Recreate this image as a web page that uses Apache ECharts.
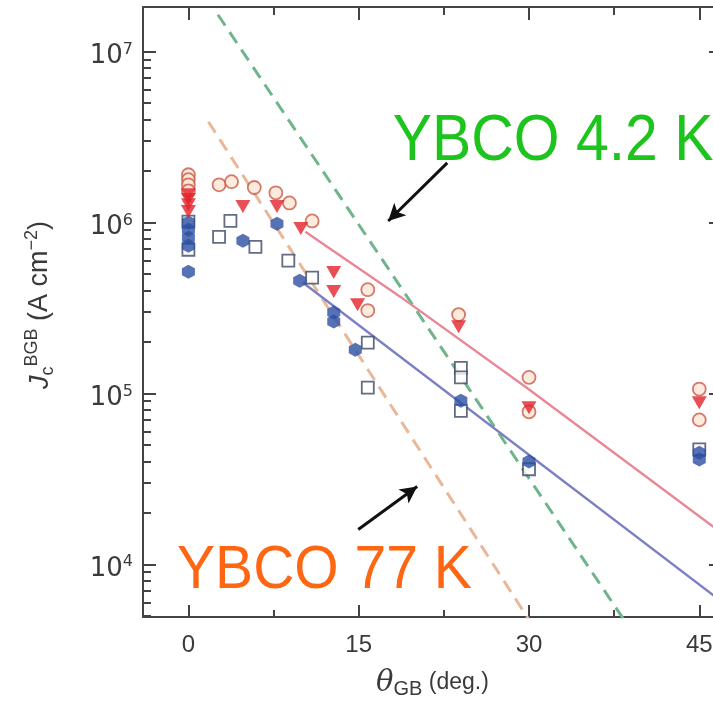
<!DOCTYPE html>
<html>
<head>
<meta charset="utf-8">
<script src="https://cdn.jsdelivr.net/npm/echarts@6/dist/echarts.min.js"></script>
<style>
html,body{margin:0;padding:0;background:#fff;}
#c{width:713px;height:702px;}
</style>
</head>
<body>
<div id="c"></div>
<script>
// ---- data ----
const xMajorTicks = [0, 15, 30, 45];
const xMinorTicks = [7.5, 22.5, 37.5];
const yMajorTicks = [1e4, 1e5, 1e6, 1e7];
const yMinorTicks = [5e3, 6e3, 7e3, 8e3, 9e3,
  2e4, 3e4, 4e4, 5e4, 6e4, 7e4, 8e4, 9e4,
  2e5, 3e5, 4e5, 5e5, 6e5, 7e5, 8e5, 9e5,
  2e6, 3e6, 4e6, 5e6, 6e6, 7e6, 8e6, 9e6];

// open red circles
const openCircles = [[0,1.90e6],[0,1.78e6],[0,1.66e6],[0,1.53e6],[2.7,1.66e6],[3.8,1.73e6],
  [5.8,1.60e6],[7.7,1.49e6],[8.9,1.30e6],[10.9,1.02e6],[15.8,4.04e5],[15.8,3.05e5],
  [23.8,2.89e5],[30,1.24e5],[30,7.8e4],[45,1.06e5],[45,7.0e4]];
// filled red down-triangles
const redTriangles = [[0,1.45e6],[0,1.36e6],[0,1.27e6],[0,1.16e6],[4.8,1.24e6],[7.8,1.24e6],
  [9.9,9.2e5],[12.8,5.1e5],[12.8,3.94e5],[14.9,3.30e5],[23.8,2.45e5],[30,8.24e4],[45,8.8e4]];
// open blue squares
const openSquares = [[0,1.01e6],[0,6.92e5],[2.7,8.24e5],[3.7,1.02e6],[5.9,7.2e5],[8.8,5.97e5],
  [10.9,4.75e5],[15.8,1.98e5],[15.8,1.08e5],[24,1.41e5],[24,1.24e5],[24,7.9e4],[30,3.6e4],[45,4.7e4]];
// filled blue hexagons
const blueFilled = [[0,1.0e6],[0,9.06e5],[0,8.14e5],[0,7.31e5],[0,5.15e5],[4.8,7.82e5],[7.8,9.83e5],
  [9.8,4.56e5],[12.8,2.97e5],[12.8,2.63e5],[14.7,1.80e5],[24,9.06e4],[30,3.99e4],[45,4.5e4],[45,4.1e4]];

// lines
const line42Dashed = [[2.6,1.64e7],[39,4.1e3]];
const line77Dashed = [[1.76,3.88e6],[30.5,4.2e3]];
const fit42 = [[10.3,8.83e5],[18.65,3.68e5],[29.8,1.08e5],[47,1.52e4]];
const fit77 = [[10.1,4.44e5],[47,6.04e3]];

// annotation arrows [tail, head]
const arrow42 = [[22.8,2.23e6],[17.6,1.02e6]];
const arrow77 = [[14.96,1.6e4],[20.15,2.85e4]];
// annotation text anchors (left, cap centre)
const text42 = {label:'YBCO 4.2 K', at:[18.0,2.92e6]};
const text77 = {label:'YBCO 77 K', at:[-1.0,9.2e3]};

// ---- chart ----
const FONT = '"Liberation Sans", Arial, Helvetica, sans-serif';
const AX = '#444';
const TXT = '#3a3a3a';
const xMin = -4, xMax = 47, yMin = 4.92e3, yMax = 1.82e7;
const gridBox = {left:143, top:7, width:579, height:610, containLabel:false, outerBoundsMode:'none'};

const chart = echarts.init(document.getElementById('c'), null, {renderer:'canvas'});

function xAx(gi, pos, ticks, len, showLine, extra) {
  return Object.assign({
    type:'value', gridIndex:gi, position:pos, min:xMin, max:xMax,
    axisLine:{show:showLine, onZero:false, lineStyle:{color:AX, width:2}},
    axisTick:{show:true, inside:true, length:len, customValues:ticks, lineStyle:{color:AX, width:2}},
    axisLabel:{show:false}, splitLine:{show:false}
  }, extra||{});
}
function yAx(gi, pos, ticks, len, showLine, extra) {
  return Object.assign({
    type:'log', logBase:10, gridIndex:gi, position:pos, min:yMin, max:yMax,
    axisLine:{show:showLine, onZero:false, lineStyle:{color:AX, width:2}},
    axisTick:{show:true, inside:true, length:len, customValues:ticks, lineStyle:{color:AX, width:2}},
    axisLabel:{show:false}, splitLine:{show:false}, minorTick:{show:false}
  }, extra||{});
}

const option = {
  animation:false,
  backgroundColor:'#fff',
  grid:[Object.assign({}, gridBox), Object.assign({}, gridBox)],
  xAxis:[
    xAx(0,'bottom',xMajorTicks,12,true,{
      axisLabel:{show:true, customValues:xMajorTicks, margin:16, color:TXT, fontSize:24, fontFamily:FONT},
      name:'{t|θ}{sub|GB}{n| (deg.)}', nameLocation:'middle', nameGap:50,
      nameTextStyle:{rich:{
        t:{fontSize:29, fontStyle:'italic', fontFamily:'"DejaVu Serif", serif', color:TXT, lineHeight:32},
        sub:{fontSize:20, fontFamily:FONT, color:TXT, verticalAlign:'bottom', lineHeight:20},
        n:{fontSize:23, fontFamily:FONT, color:TXT, lineHeight:32}
      }}
    }),
    xAx(0,'top',xMajorTicks,13,true),
    xAx(1,'bottom',xMinorTicks,7,false),
    xAx(1,'top',xMinorTicks,8,false)
  ],
  yAxis:[
    yAx(0,'left',yMajorTicks,13,true,{
      axisLabel:{show:true, customValues:yMajorTicks, margin:10, padding:[10,0,0,0], color:TXT,
        formatter:function(v){ return '{b|10}{s|' + Math.round(Math.log10(v)) + '}'; },
        rich:{
          b:{fontSize:26, fontFamily:'"DejaVu Sans", sans-serif', color:TXT, lineHeight:30},
          s:{fontSize:16, fontFamily:'"DejaVu Sans", sans-serif', color:TXT, verticalAlign:'top', lineHeight:15}
        }},
      name:'{j|J}{sub|c}{sup|BGB}{n| (A cm}{sup|−2}{n|)}', nameLocation:'middle', nameRotate:90, nameGap:86,
      nameTextStyle:{padding:[0,0,0,14], rich:{
        j:{fontSize:27, fontStyle:'italic', fontFamily:FONT, color:TXT, lineHeight:34},
        sub:{fontSize:18, fontFamily:FONT, color:TXT, verticalAlign:'bottom', lineHeight:18},
        sup:{fontSize:18, fontFamily:FONT, color:TXT, verticalAlign:'top', lineHeight:18},
        n:{fontSize:27, fontFamily:FONT, color:TXT, lineHeight:34}
      }}
    }),
    yAx(0,'right',yMajorTicks,13,true),
    yAx(1,'left',yMinorTicks,8,false),
    yAx(1,'right',yMinorTicks,8,false)
  ],
  series:[
    {type:'line', name:'4.2K GB dashed', xAxisIndex:0, yAxisIndex:0, data:line42Dashed, showSymbol:false, symbol:'none',
      lineStyle:{color:'#6fb48c', width:3, type:[13,8]}, z:1, silent:true},
    {type:'line', name:'77K GB dashed', xAxisIndex:0, yAxisIndex:0, data:line77Dashed, showSymbol:false, symbol:'none',
      lineStyle:{color:'#e9b89a', width:3, type:[13,8]}, z:1, silent:true},
    {type:'line', name:'fit 4.2K', xAxisIndex:0, yAxisIndex:0, data:fit42, showSymbol:false, symbol:'none',
      lineStyle:{color:'#ea8797', width:2.4}, z:2, silent:true},
    {type:'line', name:'fit 77K', xAxisIndex:0, yAxisIndex:0, data:fit77, showSymbol:false, symbol:'none',
      lineStyle:{color:'#7c80c2', width:2.4}, z:2, silent:true,
      markLine:{silent:true, symbol:['none','arrow'], symbolSize:[13,17], label:{show:false},
        lineStyle:{color:'#111', width:3, type:'solid'},
        data:[[{coord:arrow42[0]},{coord:arrow42[1]}],[{coord:arrow77[0]},{coord:arrow77[1]}]]}},
    {type:'scatter', name:'open squares', xAxisIndex:0, yAxisIndex:0, data:openSquares, symbol:'rect', symbolSize:12,
      itemStyle:{color:'#ffffff', borderColor:'#3d4763', borderWidth:1.8}, z:3},
    {type:'scatter', name:'blue filled', xAxisIndex:0, yAxisIndex:0, data:blueFilled,
      symbol:'path://M0,-10 L8.66,-5 L8.66,5 L0,10 L-8.66,5 L-8.66,-5 Z', symbolSize:[13,14],
      itemStyle:{color:'#2c4fa3'}, z:4},
    {type:'scatter', name:'open circles', xAxisIndex:0, yAxisIndex:0, data:openCircles, symbol:'circle', symbolSize:13,
      itemStyle:{color:'#fde6d6', borderColor:'#c85a48', borderWidth:1.8}, z:5},
    {type:'scatter', name:'red triangles', xAxisIndex:0, yAxisIndex:0, data:redTriangles, symbol:'triangle', symbolRotate:180, symbolSize:[15,13],
      itemStyle:{color:'#e3222b'}, z:6}
  ]
};
chart.setOption(option);

function placeText(t, color, size, sx) {
  const p = chart.convertToPixel({gridIndex:0}, t.at);
  return {type:'text', x:p[0], y:p[1], scaleX:sx, scaleY:1, z:10, silent:true,
    style:{text:t.label, fill:color, fontSize:size, fontFamily:FONT, align:'left', verticalAlign:'middle'}};
}
chart.setOption({graphic:[
  placeText(text42, '#1dc41d', 64, 0.92),
  placeText(text77, '#ff6612', 62, 0.92)
]});
</script>
</body>
</html>
